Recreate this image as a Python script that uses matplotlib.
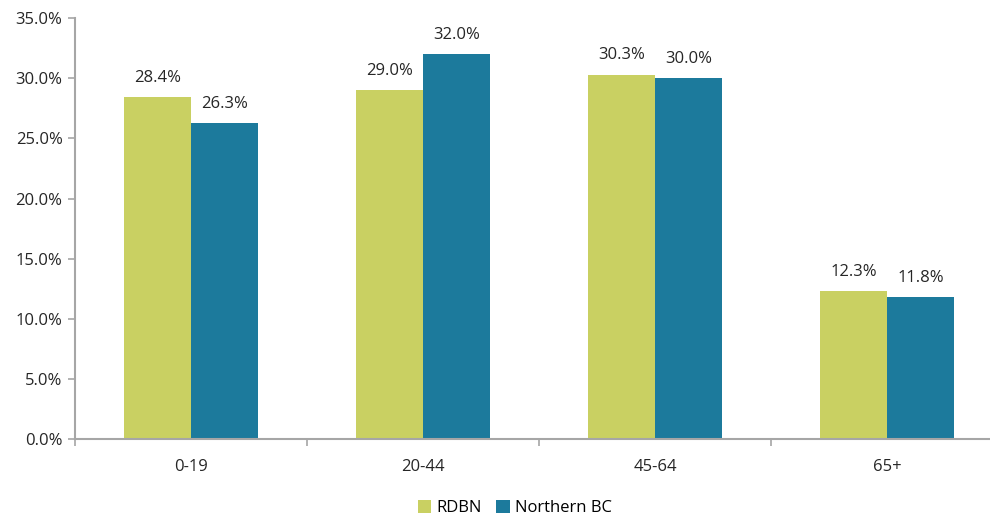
import matplotlib
matplotlib.use("Agg")
import matplotlib.pyplot as plt
import numpy as np
from matplotlib.ticker import FuncFormatter, FixedLocator

categories = ["0-19", "20-44", "45-64", "65+"]
rdbn = [28.4, 29.0, 30.3, 12.3]
northern_bc = [26.3, 32.0, 30.0, 11.8]
series_names = ["RDBN", "Northern BC"]
colors = ["#C9D062", "#1C7A9C"]

plt.rcParams['font.family'] = ['Open Sans', 'DejaVu Sans']

fig = plt.figure(figsize=(9.9, 5.16), dpi=100)
ax = fig.add_axes([0.0758, 0.149, 0.9374, 0.816])

x = np.arange(len(categories))
w = 0.29
b1 = ax.bar(x - w/2, rdbn, w, color=colors[0], label=series_names[0])
b2 = ax.bar(x + w/2, northern_bc, w, color=colors[1], label=series_names[1])

for bars, vals in ((b1, rdbn), (b2, northern_bc)):
    for rect, v in zip(bars, vals):
        ax.annotate(f"{v:.1f}%", (rect.get_x() + rect.get_width()/2, v),
                    xytext=(0, 8), textcoords="offset points",
                    ha="center", va="bottom", fontsize=12, color="#262626")

ax.set_xlim(-0.5, len(categories) - 0.5)
ax.set_ylim(0, 35)
ax.set_yticks(np.arange(0, 35.1, 5))
ax.yaxis.set_major_formatter(FuncFormatter(lambda v, p: f"{v:.1f}%"))

ax.set_xticks(x)
ax.set_xticklabels(categories)
ax.xaxis.set_minor_locator(FixedLocator(np.arange(-0.5, len(categories), 1.0)))
ax.tick_params(axis="x", which="major", length=0, pad=14, labelsize=12, labelcolor="#262626")
ax.tick_params(axis="x", which="minor", length=5, color="#A6A6A6", width=1.2)
ax.tick_params(axis="y", length=5, color="#A6A6A6", width=1.2, labelsize=12, labelcolor="#262626", pad=4)

for s in ("top", "right"):
    ax.spines[s].set_visible(False)
for s in ("left", "bottom"):
    ax.spines[s].set_color("#A6A6A6")
    ax.spines[s].set_linewidth(1.5)

leg = fig.legend(loc="lower center", bbox_to_anchor=(0.52, -0.02), ncol=2, frameon=False,
                 fontsize=12, handlelength=0.8, handleheight=0.8, handletextpad=0.3,
                 columnspacing=0.9, borderaxespad=0.2)

fig.savefig("out.png", dpi=100)
